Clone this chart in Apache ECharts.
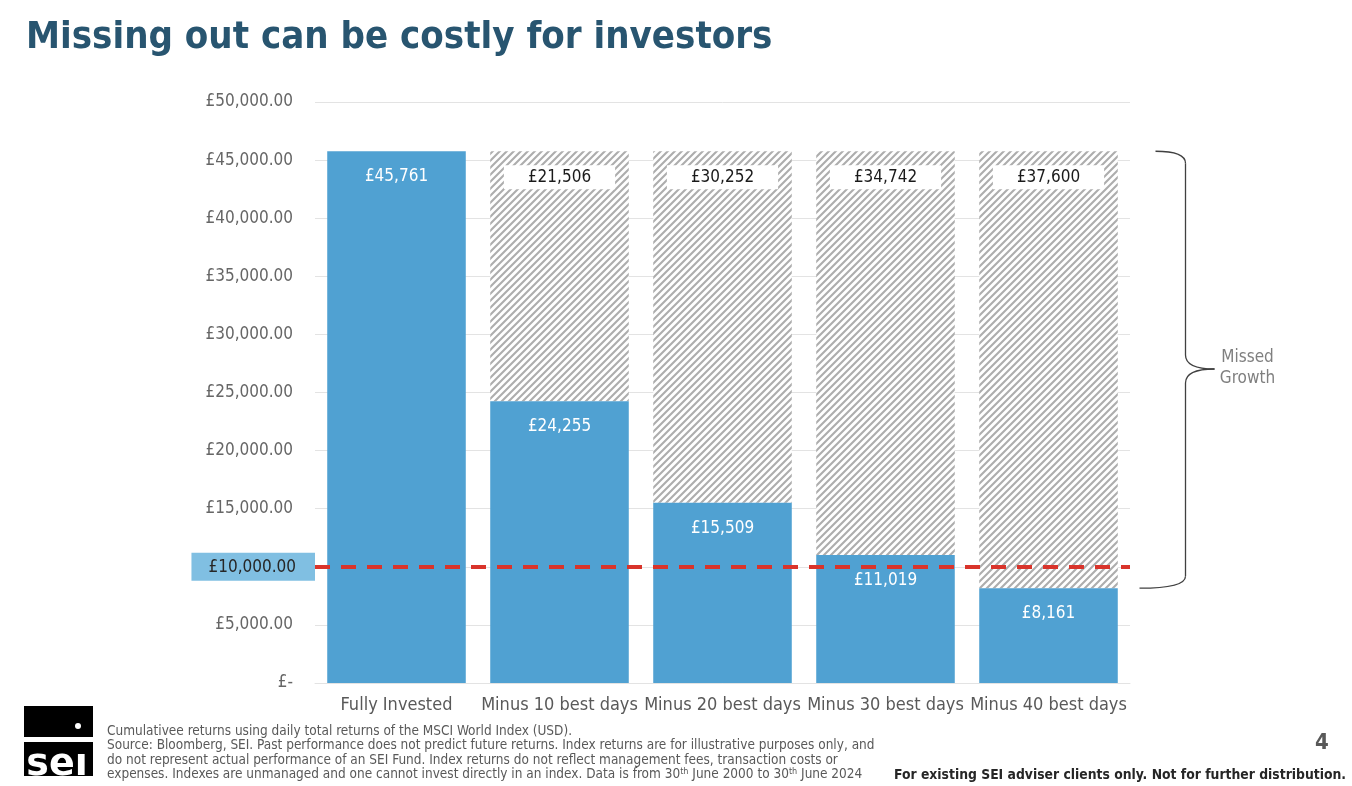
<!DOCTYPE html>
<html>
<head>
<meta charset="utf-8">
<script src="https://cdn.jsdelivr.net/npm/echarts@6/dist/echarts.min.js"></script>
<style>
  html, body { margin: 0; padding: 0; background: #fff; }
  #view { width: 1352px; height: 786px; }
</style>
</head>
<body>
<div id="view"></div>
<script>
var categories = ['Fully Invested', 'Minus 10 best days', 'Minus 20 best days', 'Minus 30 best days', 'Minus 40 best days'];
var investedValue = [45761, 24255, 15509, 11019, 8161];
var missedGrowth = [null, 21506, 30252, 34742, 37600];
var startValue = 10000;
var yTicks = { min: 0, max: 50000, interval: 5000 };

var FONT = '"DejaVu Sans Condensed", "DejaVu Sans", sans-serif';

function money(v) {
    return '£' + v.toLocaleString('en-GB');
}

// grey diagonal hatch for the missed growth part
function hatch() {
    var s = 7;
    var c = document.createElement('canvas');
    c.width = s; c.height = s;
    var ctx = c.getContext('2d');
    ctx.fillStyle = '#ffffff';
    ctx.fillRect(0, 0, s, s);
    ctx.strokeStyle = '#adadad';
    ctx.lineWidth = 2.1;
    ctx.beginPath();
    ctx.moveTo(-1, s + 1); ctx.lineTo(s + 1, -1);
    ctx.moveTo(-s / 2 - 1, s / 2 + 1); ctx.lineTo(s / 2 + 1, -s / 2 - 1);
    ctx.moveTo(s / 2 - 1, s * 1.5 + 1); ctx.lineTo(s * 1.5 + 1, s / 2 - 1);
    ctx.stroke();
    return c;
}

var myChart = echarts.init(document.getElementById('view'));

var option = {
    animation: false,
    title: {
        text: 'Missing out can be costly for investors',
        left: 21, top: 14,
        textStyle: { fontFamily: FONT, fontSize: 38, fontWeight: 'bold', color: '#285570' }
    },
    grid: { left: 315, right: 222, top: 102, bottom: 103 },
    xAxis: {
        type: 'category',
        data: categories,
        axisTick: { show: false },
        axisLine: { lineStyle: { color: '#e3e3e3' } },
        axisLabel: { color: '#595959', fontFamily: FONT, fontSize: 18, margin: 13, interval: 0 }
    },
    yAxis: {
        type: 'value',
        min: yTicks.min, max: yTicks.max, interval: yTicks.interval,
        splitLine: { lineStyle: { color: '#e3e3e3' } },
        axisLabel: {
            margin: 0,
            formatter: function (v) {
                if (v === 0) return '{n|£-}';
                var s = '£' + v.toLocaleString('en-GB', { minimumFractionDigits: 2 });
                return v === startValue ? '{hl|' + s + '}' : '{n|' + s + '}';
            },
            rich: {
                n: { color: '#666666', fontFamily: FONT, fontSize: 17, padding: [0, 22, 0, 0] },
                hl: { color: '#262626', fontFamily: FONT, fontSize: 17, backgroundColor: '#80bfe2',
                      padding: [6, 19, 5, 17] }
            }
        }
    },
    series: [
        {
            name: 'Value',
            type: 'bar',
            stack: 'total',
            barCategoryGap: '15%',
            data: investedValue,
            itemStyle: { color: '#50a1d2' },
            label: {
                show: true, position: 'insideTop', distance: 17,
                color: '#ffffff', fontFamily: FONT, fontSize: 17,
                formatter: function (p) { return money(p.value); }
            },
            markLine: {
                silent: true,
                symbol: 'none',
                label: { show: false },
                lineStyle: { color: '#d9342b', width: 4, type: [15, 11] },
                data: [{ yAxis: startValue }]
            },
            z: 3
        },
        {
            name: 'Missed growth',
            type: 'bar',
            stack: 'total',
            data: missedGrowth,
            itemStyle: { color: { image: hatch(), repeat: 'repeat' } },
            label: {
                show: true, position: 'insideTop', distance: 14,
                color: '#1a1a1a', fontFamily: FONT, fontSize: 17,
                backgroundColor: '#ffffff', padding: [4, 24, 3, 24],
                formatter: function (p) { return p.value == null ? '' : money(p.value); }
            }
        }
    ]
};

myChart.setOption(option);

// brace beside the last bar, from the fully invested level to the lowest bar
var last = categories.length - 1;
var topY = myChart.convertToPixel({ yAxisIndex: 0 }, investedValue[0]);
var botY = myChart.convertToPixel({ yAxisIndex: 0 }, investedValue[last]);
var lastX = myChart.convertToPixel({ xAxisIndex: 0 }, categories[last]);
var spine = lastX + 137;
var midY = 369;
var braceStyle = { fill: null, stroke: '#404040', lineWidth: 1.3 };

var footLines = [
    'Cumulativee returns using daily total returns of the MSCI World Index (USD).',
    'Source: Bloomberg, SEI. Past performance does not predict future returns. Index returns are for illustrative purposes only, and',
    'do not represent actual performance of an SEI Fund. Index returns do not reflect management fees, transaction costs or',
    'expenses. Indexes are unmanaged and one cannot invest directly in an index. Data is from 30{sup|th} June 2000 to 30{sup|th} June 2024'
];

myChart.setOption({
    graphic: [
        { type: 'bezierCurve', silent: true, style: braceStyle,
          shape: { x1: spine - 30, y1: topY, cpx1: spine, cpy1: topY, x2: spine, y2: topY + 12 } },
        { type: 'line', silent: true, style: braceStyle,
          shape: { x1: spine, y1: topY + 12, x2: spine, y2: midY - 14 } },
        { type: 'bezierCurve', silent: true, style: braceStyle,
          shape: { x1: spine, y1: midY - 14, cpx1: spine, cpy1: midY, x2: spine + 29, y2: midY } },
        { type: 'bezierCurve', silent: true, style: braceStyle,
          shape: { x1: spine + 29, y1: midY, cpx1: spine, cpy1: midY, x2: spine, y2: midY + 14 } },
        { type: 'line', silent: true, style: braceStyle,
          shape: { x1: spine, y1: midY + 14, x2: spine, y2: botY - 12 } },
        { type: 'bezierCurve', silent: true, style: braceStyle,
          shape: { x1: spine, y1: botY - 12, cpx1: spine, cpy1: botY, x2: spine - 46, y2: botY } },
        {
            type: 'text', x: spine + 62, y: midY - 1, silent: true,
            style: { text: 'Missed\nGrowth', fill: '#7f7f7f', font: '17px ' + FONT,
                     align: 'center', verticalAlign: 'middle', lineHeight: 21 }
        },
        // logo
        { type: 'rect', shape: { x: 24, y: 706, width: 69, height: 31 }, style: { fill: '#000' } },
        { type: 'rect', shape: { x: 24, y: 742, width: 69, height: 34 }, style: { fill: '#000' } },
        { type: 'circle', shape: { cx: 78, cy: 726, r: 3 }, style: { fill: '#fff' } },
        {
            type: 'text', x: 57, y: 765,
            style: { text: 'seı', fill: '#fff', font: 'bold 38px "DejaVu Sans", sans-serif',
                     align: 'center', verticalAlign: 'middle' }
        },
        { type: 'rect', shape: { x: 20, y: 776, width: 80, height: 10 }, style: { fill: '#fff' } },
        {
            type: 'text', x: 107, y: 724,
            style: {
                text: footLines.join('\n'), fill: '#595959', font: '13.5px ' + FONT, lineHeight: 14.4,
                rich: { sup: { fontSize: 9, fontFamily: FONT, fill: '#595959', verticalAlign: 'top', lineHeight: 14.4 } }
            }
        },
        {
            type: 'text', x: 1322, y: 743,
            style: { text: '4', fill: '#595959', font: 'bold 22px ' + FONT, align: 'center', verticalAlign: 'middle' }
        },
        {
            type: 'text', x: 1346, y: 775,
            style: { text: 'For existing SEI adviser clients only. Not for further distribution.', fill: '#262626',
                     font: 'bold 13.8px ' + FONT, align: 'right', verticalAlign: 'middle' }
        }
    ]
});
</script>
</body>
</html>
